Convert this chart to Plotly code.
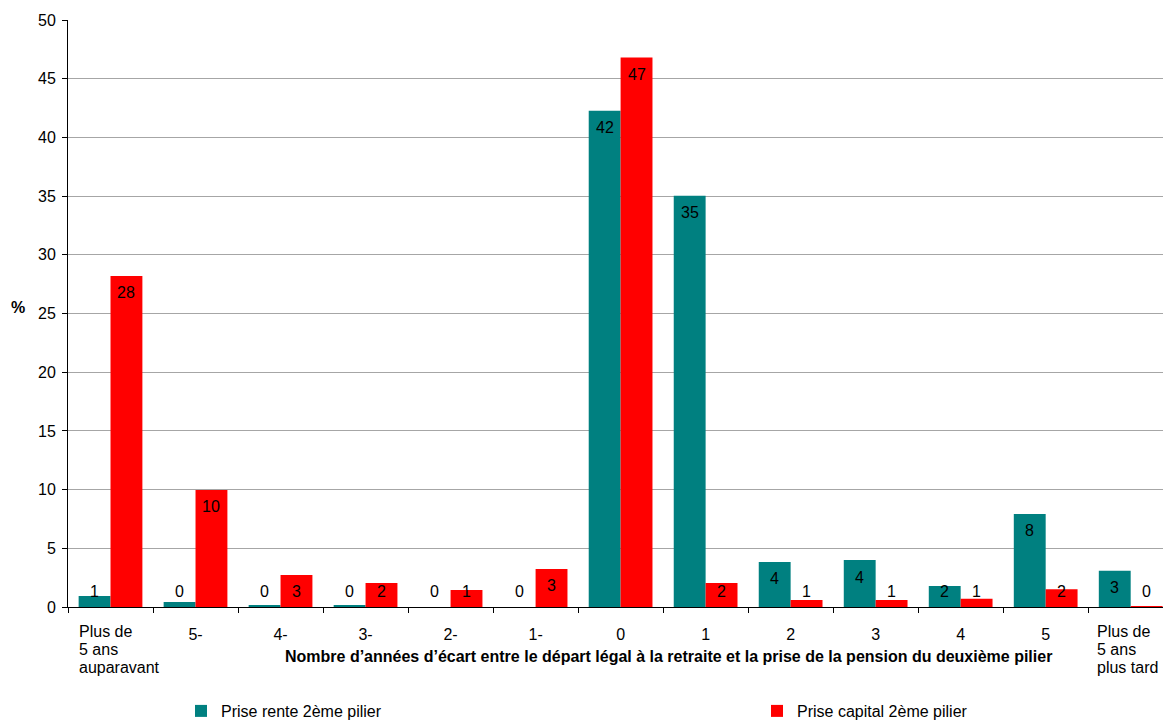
import plotly.graph_objects as go

# Years between legal retirement age and drawing the 2nd-pillar pension
categories = ["Plus de 5 ans auparavant", "5-", "4-", "3-", "2-", "1-", "0",
              "1", "2", "3", "4", "5", "Plus de 5 ans plus tard"]
tick_text = ["Plus de<br>5 ans<br>auparavant", "5-", "4-", "3-", "2-", "1-", "0",
             "1", "2", "3", "4", "5", "Plus de<br>5 ans<br>plus tard"]

# Share (%) per group
rente = [0.94, 0.43, 0.17, 0.17, 0.0, 0.0, 42.28, 35.04, 3.84, 4.0, 1.79, 7.93, 3.09]
capital = [28.2, 9.97, 2.73, 2.05, 1.44, 3.24, 46.8, 2.05, 0.6, 0.6, 0.71, 1.52, 0.08]

series_names = ["Prise rente 2ème pilier", "Prise capital 2ème pilier"]
series_colors = ["#008080", "#FF0000"]

x_title = "Nombre d’années d’écart entre le départ légal à la retraite et la prise de la pension du deuxième pilier"

FONT = "Liberation Sans, Arial, sans-serif"
FS = 16
BAR_PX = 31.8          # width of one bar in pixels (for label offsets)
LABEL_FLOOR = 2.73     # labels of short bars sit no lower than this level
PLOT_L, PLOT_W, PLOT_T, PLOT_H = 68, 1095, 20, 587
X_RANGE = [-0.5, 12.38]  # the last group runs up to the right edge

fig = go.Figure()
for k, (name, vals, col) in enumerate(zip(series_names, [rente, capital], series_colors)):
    fig.add_trace(go.Bar(x=categories, y=vals, name=name, marker_color=col,
                         marker_line_width=0, showlegend=True, cliponaxis=True,
                         legend="legend" if k == 0 else "legend2"))

annotations = []
# value labels near the top of each bar (category index used as x position)
for k, vals in enumerate([rente, capital]):
    shift = (-0.5 if k == 0 else 0.5) * BAR_PX
    for i, v in enumerate(vals):
        annotations.append(dict(
            x=i, y=max(v, LABEL_FLOOR), xref="x", yref="y",
            text=f"{v:.0f}", showarrow=False, xshift=shift, yshift=-17,
            yanchor="middle", font=dict(family=FONT, size=FS, color="black")))

# multi-line category labels, left aligned
line_left = {0: -34, 12: -36}
for i, t in enumerate(tick_text):
    if "<br>" in t:
        for j, line in enumerate(t.split("<br>")):
            annotations.append(dict(
                x=i, y=0, xref="x", yref="y", text=line,
                showarrow=False, xanchor="left", yanchor="top",
                xshift=line_left[i], yshift=-14 - 18 * j,
                font=dict(family=FONT, size=FS, color="black")))

# axis titles
annotations.append(dict(x=(18 - PLOT_L) / PLOT_W, y=(PLOT_T + PLOT_H - 307) / PLOT_H,
                        xref="paper", yref="paper", text="<b>%</b>", showarrow=False,
                        xanchor="center", yanchor="middle",
                        font=dict(family=FONT, size=FS, color="black")))
annotations.append(dict(x=(668 - PLOT_L) / PLOT_W, y=-(656 - 607) / PLOT_H,
                        xref="paper", yref="paper", text=f"<b>{x_title}</b>",
                        showarrow=False, xanchor="center", yanchor="middle",
                        font=dict(family=FONT, size=FS, color="black")))

legend_common = dict(orientation="h", xanchor="left", yref="container",
                     y=(720 - 711) / 720, yanchor="middle", itemwidth=30,
                     bgcolor="rgba(0,0,0,0)", visible=True,
                     font=dict(family=FONT, size=FS, color="black"))

fig.update_layout(
    width=1163, height=720,
    margin=dict(l=PLOT_L, r=0, t=PLOT_T, b=113),
    paper_bgcolor="white", plot_bgcolor="white",
    showlegend=True,
    barmode="group", bargap=0.25, bargroupgap=0,
    font=dict(family=FONT, size=FS, color="black"),
    annotations=annotations,
    legend=dict(legend_common, xref="container", x=181 / 1163),
    legend2=dict(legend_common, xref="container", x=757 / 1163),
    xaxis=dict(
        type="category", tickvals=categories, range=X_RANGE,
        ticktext=["" if "<br>" in t else t for t in tick_text],
        tickson="boundaries", ticks="outside", ticklen=5, tickcolor="black",
        showline=True, linecolor="black", linewidth=1, showgrid=False,
        ticklabelstandoff=13, tickfont=dict(family=FONT, size=FS, color="black"),
    ),
    yaxis=dict(
        range=[0, 50], dtick=5, tick0=0, ticks="outside", ticklen=5, tickcolor="black",
        showline=True, linecolor="black", linewidth=1,
        showgrid=True, gridcolor="#a6a6a6", gridwidth=1, zeroline=False,
        ticklabelstandoff=3, tickfont=dict(family=FONT, size=FS, color="black"),
    ),
)

fig.write_html("out.html")
